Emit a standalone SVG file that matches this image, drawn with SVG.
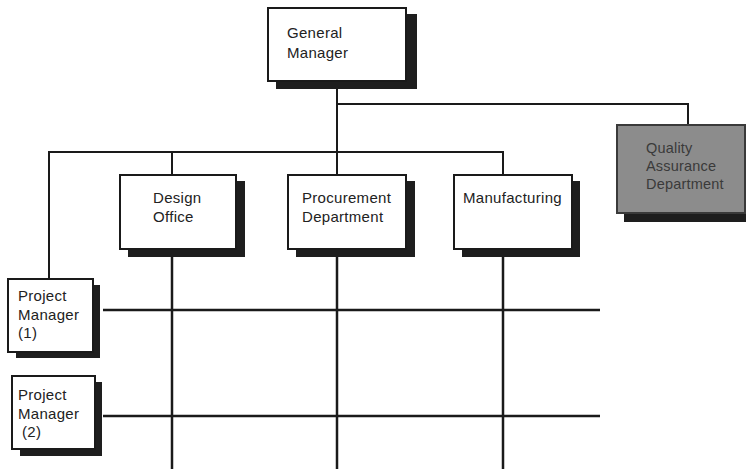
<svg xmlns="http://www.w3.org/2000/svg" width="754" height="469" viewBox="0 0 754 469">
  <style>
    .box { fill: #ffffff; stroke: #1a1a1a; stroke-width: 2; }
    .box.qa { fill: #8c8c8c; stroke: #3a3a3a; }
    .shadow { fill: #1e1e1e; }
    .lbl { font-family: "Liberation Sans", Arial, sans-serif; font-size: 15px; letter-spacing: 0.3px; fill: #222; }
    .lbl.qa { fill: #3a3a3a; font-size: 14.5px; letter-spacing: 0.2px; }
    .wire { fill: none; stroke: #1a1a1a; stroke-width: 2; }
    .grid { fill: none; stroke: #1a1a1a; stroke-width: 2.5; }
  </style>

  <!-- connectors -->
  <g id="connectors">
    <path class="wire" d="M337 81 V152"/>
    <path class="wire" d="M337 104 H688 V125"/>
    <path class="wire" d="M49 279 V152 H503 V175"/>
    <path class="wire" d="M172 152 V175"/>
    <path class="wire" d="M337 152 V175"/>
    <path class="grid" d="M172 257 V469"/>
    <path class="grid" d="M337 257 V469"/>
    <path class="grid" d="M503 257 V469"/>
    <path class="grid" d="M103 310 H600"/>
    <path class="grid" d="M103 416 H600"/>
  </g>

  <g id="general-manager">
    <rect class="shadow" x="276" y="14" width="141" height="75"/>
    <rect class="box" x="268" y="8" width="138" height="73"/>
    <text class="lbl" x="287" y="38">General</text>
    <text class="lbl" x="287" y="58">Manager</text>
  </g>

  <g id="quality-assurance">
    <rect class="shadow" x="624" y="130" width="122" height="92"/>
    <rect class="box qa" x="617" y="125" width="128" height="88"/>
    <text class="lbl qa" x="646" y="153">Quality</text>
    <text class="lbl qa" x="646" y="171">Assurance</text>
    <text class="lbl qa" x="646" y="189">Department</text>
  </g>

  <g id="design-office">
    <rect class="shadow" x="128" y="181" width="117" height="76"/>
    <rect class="box" x="120" y="175" width="116" height="74"/>
    <text class="lbl" x="153" y="203">Design</text>
    <text class="lbl" x="153" y="222">Office</text>
  </g>

  <g id="procurement">
    <rect class="shadow" x="296" y="181" width="119" height="76"/>
    <rect class="box" x="288" y="175" width="118" height="74"/>
    <text class="lbl" x="302" y="203">Procurement</text>
    <text class="lbl" x="302" y="222">Department</text>
  </g>

  <g id="manufacturing">
    <rect class="shadow" x="462" y="181" width="118" height="76"/>
    <rect class="box" x="454" y="175" width="118" height="74"/>
    <text class="lbl" x="463" y="203">Manufacturing</text>
  </g>

  <g id="project-manager-1">
    <rect class="shadow" x="16" y="285" width="84" height="73"/>
    <rect class="box" x="8" y="279" width="85" height="73"/>
    <text class="lbl" x="18" y="301">Project</text>
    <text class="lbl" x="18" y="320">Manager</text>
    <text class="lbl" x="18" y="338">(1)</text>
  </g>

  <g id="project-manager-2">
    <rect class="shadow" x="20" y="382" width="82" height="74"/>
    <rect class="box" x="12" y="376" width="83" height="73"/>
    <text class="lbl" x="18" y="400">Project</text>
    <text class="lbl" x="18" y="419">Manager</text>
    <text class="lbl" x="22" y="437">(2)</text>
  </g>
</svg>
